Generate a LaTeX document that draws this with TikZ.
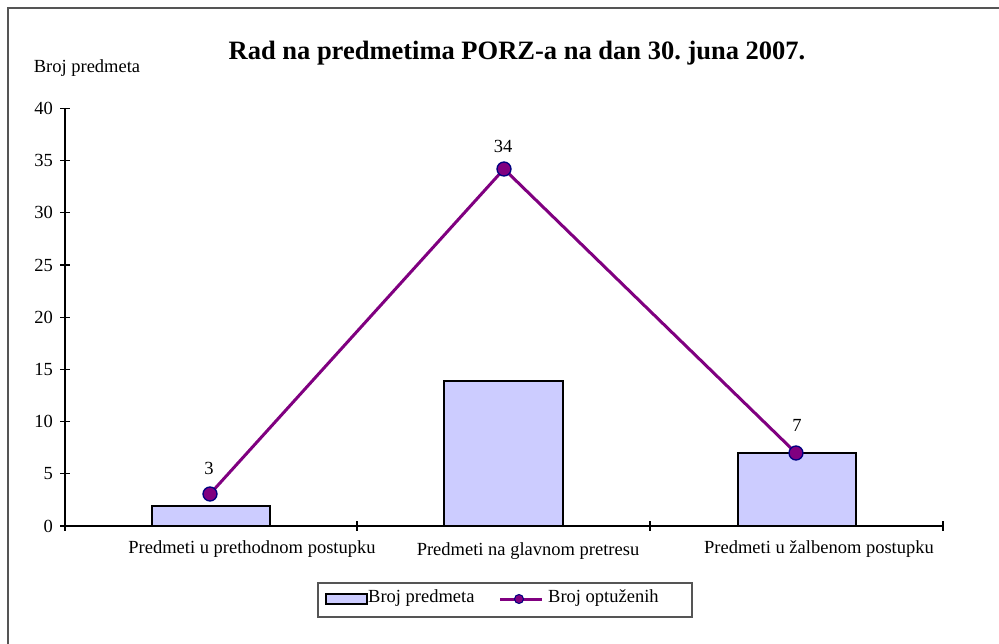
\documentclass[tikz,border=0pt]{standalone}
\usepackage{fontspec}
\setmainfont{Liberation Serif}
\frenchspacing
\definecolor{barfill}{HTML}{CCCCFF}
\definecolor{linepurple}{HTML}{800080}
\definecolor{marknavy}{HTML}{000080}
\definecolor{framegray}{HTML}{555555}
\begin{document}
\begin{tikzpicture}[x=1pt,y=-1pt,
  lbl/.style={font=\fontsize{18.5}{21}\selectfont, inner sep=0pt},
  ttl/.style={font=\fontsize{26.5}{30}\selectfont\bfseries, inner sep=0pt},
  bar/.style={draw=black, line width=1.6pt, fill=barfill},
  axis/.style={draw=black, line width=1.3pt},
  serie/.style={draw=linepurple, line width=3pt},
  marker/.style={circle, draw=marknavy, line width=1.3pt, fill=linepurple, minimum size=14pt, inner sep=0pt},
  smallmarker/.style={circle, draw=marknavy, line width=1pt, fill=linepurple, minimum size=9pt, inner sep=0pt},
  legendbox/.style={draw=framegray, line width=1.2pt, fill=white}
]
\useasboundingbox (0,0) rectangle (999,644);
\fill[white] (0,0) rectangle (999,644);
% outer frame (left and top only visible)
\draw[framegray, line width=2pt] (8,644) -- (8,8) -- (999,8);

% title
\node[ttl] (title) at (517,53) {Rad na predmetima PORZ-a na dan 30. juna 2007.};
\node[lbl] (ylab) at (87,68) {Broj predmeta};

% axes
\coordinate (ytop) at (65,108);
\coordinate (ybot) at (65,531);
\coordinate (xl) at (65,526);
\coordinate (xr) at (943,526);
\draw[axis] (ytop) -- (ybot);
\draw[axis] (xl) -- (xr);
\foreach \v in {0,5,...,40} {
  \pgfmathsetmacro{\yy}{526-\v*52.2/5}
  \draw[axis] (60,\yy) -- (70,\yy);
  \node[lbl, anchor=east] (yt\v) at (53,\yy) {\v};
}
\foreach \xx in {357,650,943} {
  \draw[axis] (\xx,521) -- (\xx,531);
}

% bars
\draw[bar] (152,526) rectangle (270,506);
\draw[bar] (444,526) rectangle (563,381);
\draw[bar] (738,526) rectangle (856,453);

% category labels
\node[lbl] (cat1) at (252,549) {Predmeti u prethodnom postupku};
\node[lbl] (cat2) at (528,551) {Predmeti na glavnom pretresu};
\node[lbl] (cat3) at (819,549) {Predmeti u žalbenom postupku};

% line series
\coordinate (c1) at (210,494);
\coordinate (c2) at (504,169);
\coordinate (c3) at (796,453);
\draw[serie] (c1) -- (c2) -- (c3);
\node[marker] (p1) at (c1) {};
\node[marker] (p2) at (c2) {};
\node[marker] (p3) at (c3) {};
\node[lbl] (v1) at (209,468) {3};
\node[lbl] (v2) at (503,146) {34};
\node[lbl] (v3) at (797,425) {7};

% legend
\node[legendbox, minimum width=374pt, minimum height=34pt] (legend) at (505,600) {};
\draw[bar, line width=1.3pt] (326,594) rectangle (367,604);
\node[lbl, anchor=west] (leg1) at (368,598) {Broj predmeta};
\coordinate (la) at (500,599);
\coordinate (lb) at (542,599);
\draw[serie] (la) -- (lb);
\node[smallmarker] (lm) at (519,599) {};
\node[lbl, anchor=west] (leg2) at (548,598) {Broj optuženih};
\end{tikzpicture}
\end{document}
